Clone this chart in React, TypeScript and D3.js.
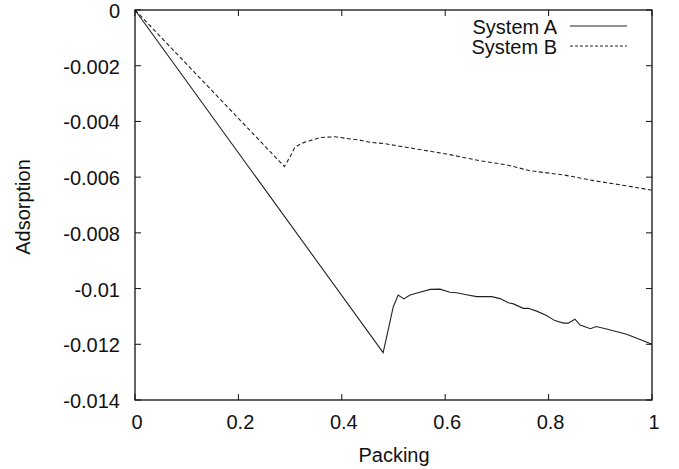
import React from "react";
import * as d3 from "d3";

const xTicks = [0, 0.2, 0.4, 0.6, 0.8, 1];
const xTickLabels = ["0", "0.2", "0.4", "0.6", "0.8", "1"];
const yTicks = [0, -0.002, -0.004, -0.006, -0.008, -0.01, -0.012, -0.014];
const yTickLabels = ["0", "-0.002", "-0.004", "-0.006", "-0.008", "-0.01", "-0.012", "-0.014"];

const seriesNames = ["System A", "System B"];

const systemAX = [0, 0.48, 0.4996, 0.509, 0.52, 0.532, 0.551, 0.571, 0.59, 0.609, 0.622, 0.641, 0.661, 0.69, 0.706, 0.722, 0.732, 0.751, 0.761, 0.777, 0.796, 0.812, 0.829, 0.838, 0.851, 0.861, 0.881, 0.892, 0.912, 0.951, 1.0];
const systemAY = [0, -0.0123, -0.01065, -0.01023, -0.01037, -0.01023, -0.01013, -0.01003, -0.01002, -0.01013, -0.01015, -0.01022, -0.01029, -0.01029, -0.01036, -0.01051, -0.01055, -0.01071, -0.01071, -0.01081, -0.01097, -0.01115, -0.01124, -0.01124, -0.0111, -0.01131, -0.01144, -0.01136, -0.01145, -0.01164, -0.012];

const systemBX = [0, 0.289, 0.3, 0.309, 0.322, 0.338, 0.358, 0.387, 0.409, 0.435, 0.454, 0.48, 0.538, 0.603, 0.667, 0.719, 0.764, 0.829, 0.892, 0.96, 1.0];
const systemBY = [0, -0.00562, -0.00527, -0.00493, -0.00479, -0.00469, -0.00458, -0.00455, -0.00461, -0.00467, -0.00475, -0.00479, -0.00497, -0.00517, -0.00541, -0.00556, -0.00577, -0.00592, -0.00614, -0.00634, -0.00647];

const W = 679;
const H = 469;
const M = { left: 135, right: 652, top: 10, bottom: 400 };
const FONT = "'Liberation Sans', Arial, Helvetica, sans-serif";

export default function App() {
  const x = d3.scaleLinear().domain([0, 1]).range([M.left, M.right]);
  const y = d3.scaleLinear().domain([-0.014, 0]).range([M.bottom, M.top]);

  const line = d3
    .line<[number, number]>()
    .x((d) => x(d[0]))
    .y((d) => y(d[1]));

  const dataA: [number, number][] = systemAX.map((v, i) => [v, systemAY[i]]);
  const dataB: [number, number][] = systemBX.map((v, i) => [v, systemBY[i]]);

  const tickLen = 6;
  const stroke = "#222";

  return (
    <svg
      width={W}
      height={H}
      style={{ position: "absolute", left: 0, top: 0, background: "#fff" }}
      fontFamily={FONT}
    >
      <rect x={0} y={0} width={W} height={H} fill="#fff" />
      {/* data lines */}
      <path d={line(dataA) || ""} fill="none" stroke={stroke} strokeWidth={1.1} />
      <path d={line(dataB) || ""} fill="none" stroke={stroke} strokeWidth={1.1} strokeDasharray="4,2.5" />

      {/* frame */}
      <rect
        x={M.left}
        y={M.top}
        width={M.right - M.left}
        height={M.bottom - M.top}
        fill="none"
        stroke="#111"
        strokeWidth={1.3}
      />

      {/* x ticks */}
      {xTicks.map((t, i) => (
        <g key={"x" + i}>
          <line x1={x(t)} x2={x(t)} y1={M.bottom} y2={M.bottom - tickLen} stroke="#111" />
          <line x1={x(t)} x2={x(t)} y1={M.top} y2={M.top + tickLen} stroke="#111" />
          <text x={x(t) + 2} y={422} fontSize={20} textAnchor="middle" dominantBaseline="central" fill="#111">
            {xTickLabels[i]}
          </text>
        </g>
      ))}

      {/* y ticks */}
      {yTicks.map((t, i) => (
        <g key={"y" + i}>
          <line x1={M.left} x2={M.left + tickLen} y1={y(t)} y2={y(t)} stroke="#111" />
          <line x1={M.right} x2={M.right - tickLen} y1={y(t)} y2={y(t)} stroke="#111" />
          <text x={120} y={y(t) + 1} fontSize={20} textAnchor="end" dominantBaseline="central" fill="#111">
            {yTickLabels[i]}
          </text>
        </g>
      ))}

      {/* axis titles */}
      <text x={394} y={455} fontSize={20} textAnchor="middle" dominantBaseline="central" fill="#111">
        Packing
      </text>
      <text
        transform={`translate(23,207) rotate(-90)`}
        fontSize={20}
        textAnchor="middle"
        dominantBaseline="central"
        fill="#111"
      >
        Adsorption
      </text>

      {/* legend */}
      {seriesNames.map((name, i) => (
        <g key={"l" + i}>
          <text x={557} y={27 + i * 20} fontSize={20} textAnchor="end" dominantBaseline="central" fill="#111">
            {name}
          </text>
          <line
            x1={570}
            x2={627}
            y1={26 + i * 20}
            y2={26 + i * 20}
            stroke={stroke}
            strokeWidth={1.1}
            strokeDasharray={i === 1 ? "3,2" : undefined}
          />
        </g>
      ))}
    </svg>
  );
}
